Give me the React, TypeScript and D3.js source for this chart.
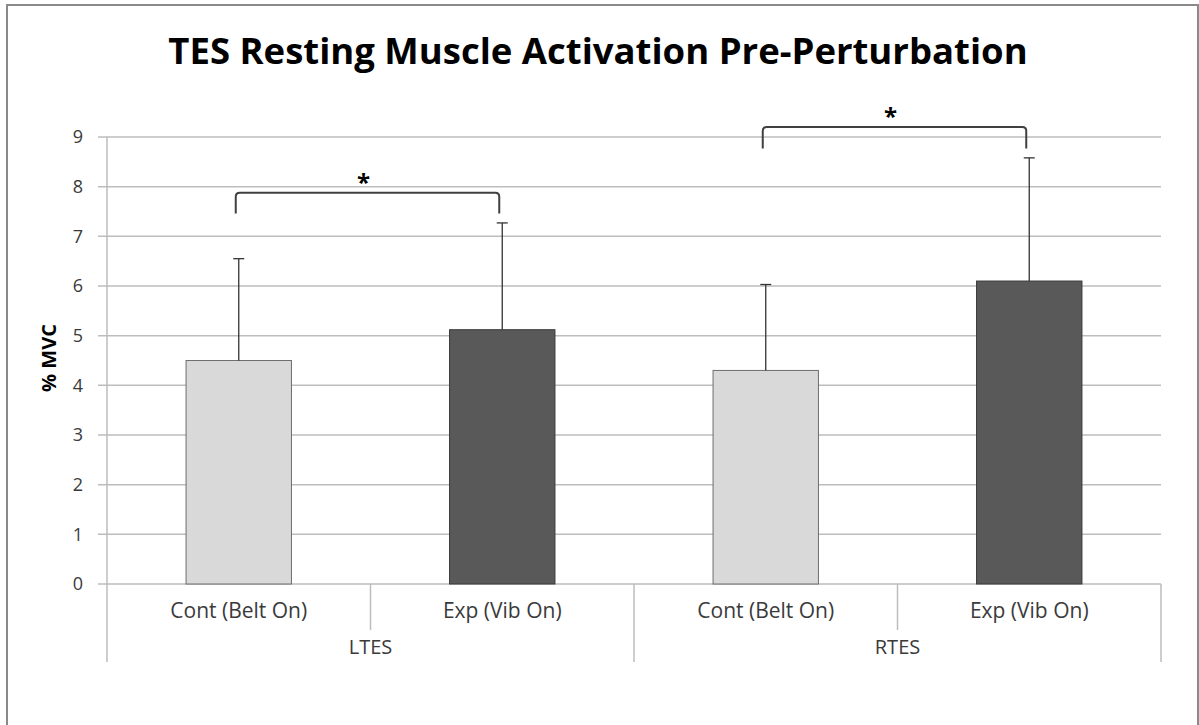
import React from "react";
import * as d3 from "d3";

const groups = ["LTES", "RTES"];
const conditions = ["Cont (Belt On)", "Exp (Vib On)"];
const means = [4.5, 5.12, 4.3, 6.1];
const sds = [2.05, 2.15, 1.73, 2.48];
const yTicks = [0, 1, 2, 3, 4, 5, 6, 7, 8, 9];
const brackets = [
  { from: 0, to: 1, top: 7.88, leg: 7.46 },
  { from: 2, to: 3, top: 9.2, leg: 8.77 },
];
const barColors = ["#d9d9d9", "#595959"];
const barStrokes = ["#6e6e6e", "#3a3a3a"];

const W = 1199;
const H = 725;
const left = 107;
const right = 1161;
const y0 = 584;
const yTop = 137;

export default function App() {
  const cats = groups.flatMap((g) => conditions.map((c) => `${g}|${c}`));
  const x = d3.scaleBand<string>().domain(cats).range([left, right]).paddingInner(0).paddingOuter(0);
  const y = d3.scaleLinear().domain([0, 9]).range([y0, yTop]);
  const bw = x.bandwidth();
  const barW = bw * 0.4;
  const gx = d3.scaleBand<string>().domain(groups).range([left, right]);
  const font = "'Open Sans', 'DejaVu Sans', sans-serif";
  const textColor = "#3a3a3a";

  return (
    <svg width={W} height={H} style={{ position: "absolute", left: 0, top: 0, background: "#fff" }}>
      <rect x={7} y={5} width={1191} height={740} fill="#fff" stroke="#8a8a8a" strokeWidth={2} />
      <text x={598} y={64} textAnchor="middle" fontFamily={font} fontWeight="bold" fontSize={36.5} fill="#000">
        TES Resting Muscle Activation Pre-Perturbation
      </text>
      {/* gridlines */}
      {yTicks.map((t) => (
        <g key={t}>
          <line x1={98} x2={right} y1={y(t)} y2={y(t)} stroke="#bdbdbd" strokeWidth={1.5} />
          <text x={83} y={y(t)} dy="0.36em" textAnchor="end" fontFamily={font} fontSize={18} fill={textColor}>
            {t}
          </text>
        </g>
      ))}
      {/* y axis */}
      <line x1={left} x2={left} y1={yTop} y2={662} stroke="#bdbdbd" strokeWidth={1.5} />
      <text
        transform={`translate(56,358) rotate(-90)`}
        textAnchor="middle"
        fontFamily={font}
        fontWeight="bold"
        fontSize={20}
        fill="#000"
      >
        % MVC
      </text>
      {/* category dividers */}
      {cats.map((c, i) =>
        i % 2 === 1 ? (
          <line key={c} x1={x(c)!} x2={x(c)!} y1={y0} y2={630} stroke="#bdbdbd" strokeWidth={1.5} />
        ) : null
      )}
      {groups.map((g) => (
        <line key={g} x1={gx(g)! + gx.bandwidth()} x2={gx(g)! + gx.bandwidth()} y1={y0} y2={662} stroke="#bdbdbd" strokeWidth={1.5} />
      ))}
      {/* bars */}
      {cats.map((c, i) => {
        const cx = x(c)! + bw / 2;
        return (
          <g key={c}>
            <rect
              x={cx - barW / 2}
              y={y(means[i])}
              width={barW}
              height={y(0) - y(means[i])}
              fill={barColors[i % 2]}
              stroke={barStrokes[i % 2]}
              strokeWidth={1}
            />
            <line x1={cx} x2={cx} y1={y(means[i])} y2={y(means[i] + sds[i])} stroke="#333" strokeWidth={1.3} />
            <line x1={cx - 5.5} x2={cx + 5.5} y1={y(means[i] + sds[i])} y2={y(means[i] + sds[i])} stroke="#333" strokeWidth={1.3} />
          </g>
        );
      })}
      {/* category labels */}
      {cats.map((c, i) => (
        <text key={c} x={x(c)! + bw / 2} y={611} dy="0.35em" textAnchor="middle" fontFamily={font} fontSize={21} fill={textColor}>
          {conditions[i % 2]}
        </text>
      ))}
      {groups.map((g) => (
        <text key={g} x={gx(g)! + gx.bandwidth() / 2} y={647} dy="0.35em" textAnchor="middle" fontFamily={font} fontSize={20} fill={textColor}>
          {g}
        </text>
      ))}
      {/* significance brackets */}
      {brackets.map((b, k) => {
        const x1 = x(cats[b.from])! + bw / 2 - 3;
        const x2 = x(cats[b.to])! + bw / 2 - 3;
        const yt = y(b.top);
        const yl = y(b.leg);
        const r = 4;
        const p = `M${x1},${yl} L${x1},${yt + r} Q${x1},${yt} ${x1 + r},${yt} L${x2 - r},${yt} Q${x2},${yt} ${x2},${yt + r} L${x2},${yl}`;
        return (
          <g key={k}>
            <path d={p} fill="none" stroke="#404040" strokeWidth={2} />
            <text x={(x1 + x2) / 2 - 4} y={yt - 2} textAnchor="middle" fontFamily={font} fontWeight="bold" fontSize={24} fill="#000">
              *
            </text>
          </g>
        );
      })}
    </svg>
  );
}
